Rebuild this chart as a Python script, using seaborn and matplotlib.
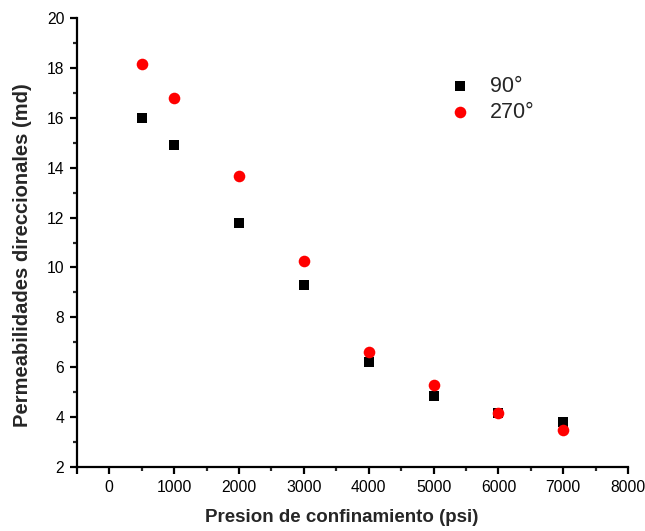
import seaborn as sns
import matplotlib.pyplot as plt
import pandas as pd
from matplotlib.ticker import MultipleLocator

# Datos
presion = [500, 1000, 2000, 3000, 4000, 5000, 6000, 7000]
perm_90 = [16.0, 14.92, 11.78, 9.30, 6.20, 4.85, 4.18, 3.80]
perm_270 = [18.16, 16.8, 13.68, 10.25, 6.62, 5.27, 4.18, 3.48]

sns.set_style("ticks")
plt.rcParams['font.family'] = ['Liberation Sans', 'DejaVu Sans']

fig = plt.figure(figsize=(6.45, 5.31), dpi=100)
ax = fig.add_axes([0.119, 0.1205, 0.855, 0.8455])

df90 = pd.DataFrame({"p": presion, "k": perm_90})
df270 = pd.DataFrame({"p": presion, "k": perm_270})

sns.scatterplot(data=df90, x="p", y="k", ax=ax, marker="s", color="black",
                s=60, linewidth=0, label="90°", zorder=3)
sns.scatterplot(data=df270, x="p", y="k", ax=ax, marker="o", color="red",
                s=70, linewidth=0, label="270°", zorder=4)

ax.set_xlim(-500, 8000)
ax.set_ylim(2, 20)
ax.xaxis.set_major_locator(MultipleLocator(1000))
ax.xaxis.set_minor_locator(MultipleLocator(500))
ax.yaxis.set_major_locator(MultipleLocator(2))
ax.yaxis.set_minor_locator(MultipleLocator(1))

for s in ["top", "right"]:
    ax.spines[s].set_visible(False)
for s in ["left", "bottom"]:
    ax.spines[s].set_linewidth(1.6)
    ax.spines[s].set_color("black")

ax.tick_params(which="major", direction="out", length=5, width=1.6, labelsize=11.3,
               colors="black", pad=4)
ax.tick_params(which="minor", direction="out", length=3, width=1.6)
ax.set_xticks([-500] + list(range(0, 8001, 1000)))
ax.set_xticklabels([""] + [str(v) for v in range(0, 8001, 1000)])

ax.set_xlabel("Presion de confinamiento (psi)", fontsize=13.5, fontweight="bold")
ax.set_ylabel("Permeabilidades direccionales (md)", fontsize=14.5, fontweight="bold")
ax.xaxis.set_label_coords(0.48, -0.093)
ax.yaxis.set_label_coords(-0.082, 0.473)

ax.legend(loc="upper left", bbox_to_anchor=(0.683, 0.874), bbox_transform=fig.transFigure,
          borderaxespad=0, frameon=False, fontsize=15.5, handlelength=1.0,
          handletextpad=0.9, labelspacing=0.25)

fig.savefig("out.png", dpi=100)
